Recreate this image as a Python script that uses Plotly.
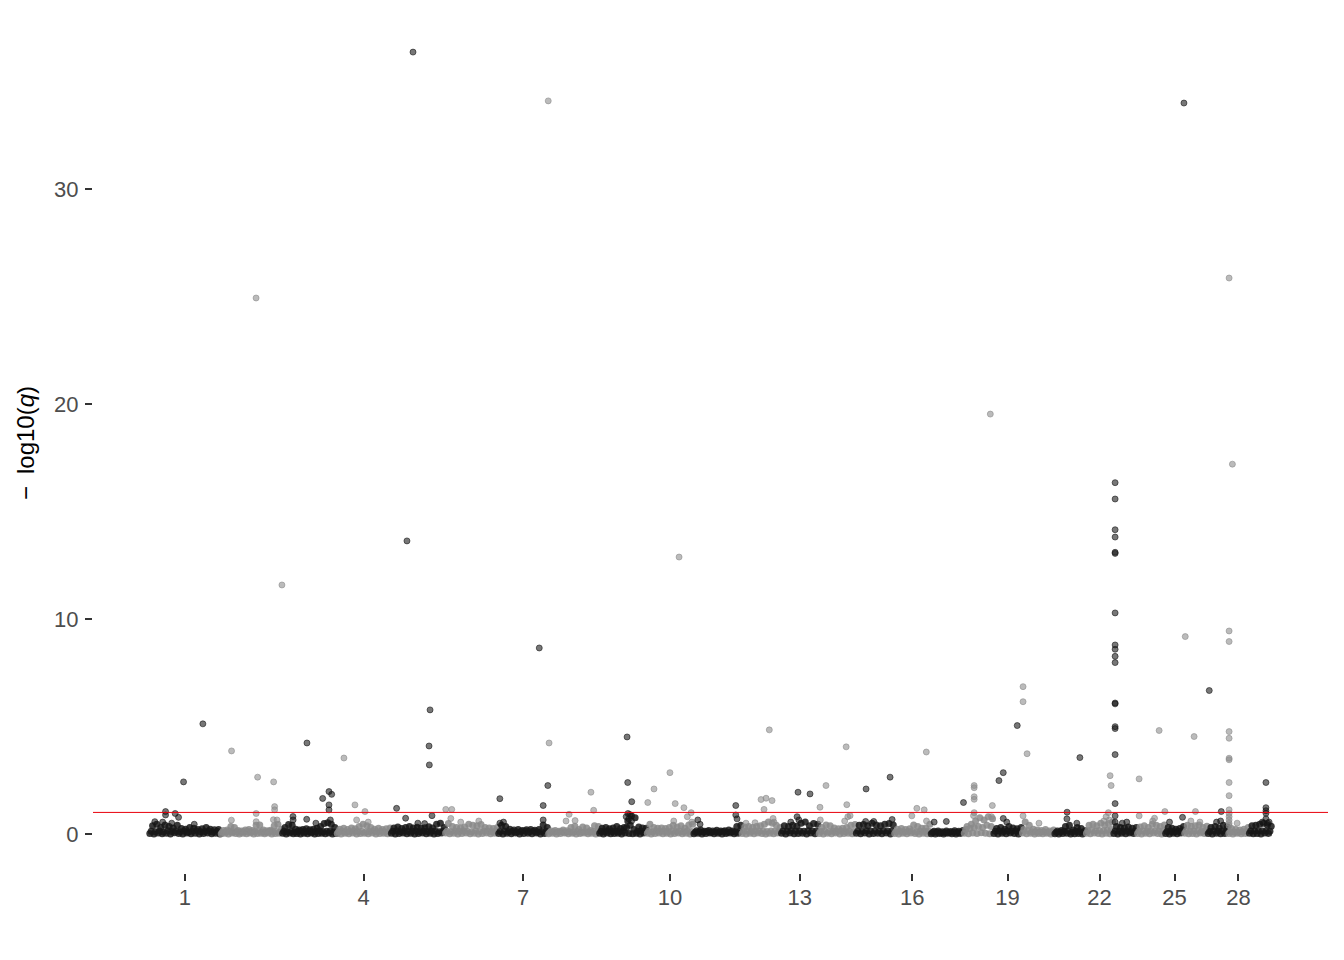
"""Manhattan plot de q-valores por cromosoma (Plotly)."""

import numpy as np
import plotly.graph_objects as go

# --- datos -----------------------------------------------------------------
chrom_ids = list(range(1, 30))
chrom_len_mb = [158.5, 136.2, 121.0, 120.0, 120.1, 117.8, 110.7, 113.3, 105.5, 103.3,
                106.9, 87.2, 83.5, 82.4, 85.0, 81.0, 73.2, 65.8, 63.4, 71.9,
                69.9, 60.8, 52.5, 62.3, 42.4, 51.9, 45.6, 45.9, 51.1]

# SNPs de fondo (nube densa): -log10(q) x 100, repartidos a lo largo de cada cromosoma
bg_vals = [
    "2 12 38 0 10 45 4 14 30 1 9 42 3 15 35 0 11 28 5 12 40 2 10 25 0 13 22 4 9 30 1 12 26 3 14 20 0 10 24 2 11 30 4 13 22 1 9 19 3 12 21 0",
    "1 8 16 3 10 18 0 12 35 4 9 30 2 11 16 0 8 14 3 10 18 1 12 20 4 9 16 0 11 40 2 13 42 3 10 18 1 8 15 4 12 17 0 10 38 2 11 45 3 9 22",
    "3 12 30 0 10 44 4 14 40 1 9 22 2 11 18 0 13 20 3 10 24 1 12 19 4 9 22 0 11 26 2 13 35 3 10 48 1 12 52 4 14 45 0 9 30 2",
    "2 10 22 0 12 26 3 9 20 1 11 28 4 13 24 0 10 35 2 12 45 3 9 38 1 11 30 4 13 22 0 10 26 2 12 20 3 9 24 1 11 28",
    "3 12 28 0 14 32 2 10 25 4 13 30 1 11 35 3 12 27 0 14 31 2 10 26 4 13 29 1 11 33 3 12 28 0 14 45 2 10 50 4 13 30",
    "4 12 48 1 10 35 3 13 30 0 11 28 2 14 32 4 12 45 1 10 40 3 13 38 0 11 44 2 14 30 4 12 27 1 10 25 3 13 30",
    "2 11 40 0 13 35 3 10 22 1 12 18 4 9 20 0 11 16 2 13 19 3 10 21 1 12 17 4 9 20 0 11 42 2 13 30",
    "1 8 14 3 10 16 0 9 12 2 11 18 4 8 15 1 10 30 3 9 36 0 11 20 2 8 32 4 10 28 1 9 16 3 11 38 0 10 34",
    "3 12 26 0 10 30 4 13 24 1 11 28 2 12 35 3 10 25 0 13 30 4 30 60 2 40 85 1 20 75 3 12 32 0 12 28 4 10 26",
    "3 12 45 0 10 30 2 13 26 4 11 28 1 12 25 3 10 30 0 13 40 2 11 32 4 12 38 1 10 26 3 13 42 0 11 45",
    "1 8 15 3 10 18 0 9 12 2 11 16 4 8 14 1 10 17 3 9 13 0 11 15 2 8 18 4 10 14 1 9 35 3 11 40",
    "2 12 32 0 14 35 3 11 30 1 13 34 4 12 38 2 14 45 0 11 55 3 13 50 1 12 40 4 14 30",
    "3 14 38 0 12 35 4 15 40 1 13 36 2 14 50 3 12 55 0 15 38 4 13 48 1 14 45",
    "2 11 30 0 13 42 3 10 38 1 12 28 4 11 24 0 13 26 2 10 30 3 12 40 1 11 44",
    "3 14 40 1 12 44 4 15 38 0 13 50 2 14 42 3 12 38 1 15 45 4 13 48 0 14 42",
    "2 10 22 0 12 25 3 9 20 1 11 24 4 13 42 2 10 35 0 12 26 3 11 28 1 13 45",
    "1 6 12 0 8 14 2 5 10 0 7 13 3 6 11 1 8 15 0 6 12 2 7 16",
    "3 20 35 1 25 45 4 30 60 2 35 75 5 30 65 3 40 80 1 35 70",
    "2 12 25 0 14 30 3 11 22 1 13 35 4 12 28 2 14 24 0 11 30",
    "4 20 55 1 15 40 3 10 22 0 9 18 2 8 16 1 10 20 3 8 14 0 9 18",
    "1 8 14 0 9 16 2 12 35 3 14 40 0 9 18 1 12 30 2 10 25 0 8 15",
    "3 15 40 1 18 45 4 14 38 2 16 50 0 15 42 3 17 48 1 20 55",
    "2 13 35 0 12 30 3 11 28 1 13 32 4 10 26 2 12 30",
    "2 12 32 0 14 38 3 11 30 1 15 45 4 12 40 2 13 35 0 14 42",
    "2 11 30 0 12 26 3 10 22 1 12 25 4 14 35",
    "3 14 40 1 12 35 2 13 38 0 15 42 4 11 30 2 13 36",
    "2 11 30 0 13 35 3 12 28 1 14 40 2 12 32",
    "2 10 25 0 9 20 3 8 18 1 10 22 2 12 30",
    "3 14 38 1 13 40 2 15 45 0 14 50 4 13 42 2 12 36",
]

# SNPs destacados (cromosoma, posicion en Mb, -log10(q))
hit_chr = ([1] * 10 + [2] * 12 + [3] * 11 + [4] * 5 + [5] * 10 + [6] * 5 + [7] * 7
           + [8] * 7 + [9] * 8 + [10] * 10 + [11] * 5 + [12] * 9 + [13] * 5 + [14] * 8
           + [15] * 5 + [16] * 5 + [17] * 3 + [18] * 9 + [19] * 5 + [20] * 5 + [21] * 4
           + [22] * 6 + [23] * 21 + [24] * 6 + [25] * 3 + [26] * 5 + [27] * 4 + [28] * 17
           + [29] * 8)
hit_pos = [
    119.1, 76.3, 36.4, 36.4, 57.7, 65.2, 12.6, 30.0, 50.0, 100.0,
    78.6, 135.9, 24.2, 82.0, 117.5, 119.7, 119.7, 78.8, 78.8, 23.9, 117.0, 125.0,
    55.2, 90.0, 104.0, 110.0, 104.0, 104.0, 24.2, 24.5, 54.6, 107.0, 75.0,
    16.2, 40.6, 62.8, 44.3, 70.0,
    49.3, 35.9, 87.1, 84.9, 85.5, 12.9, 32.9, 91.4, 60.0, 75.0,
    1.8, 15.1, 13.0, 35.0, 75.0,
    3.9, 110.3, 100.0, 91.3, 100.0, 4.0, 12.0,
    0.5, 2.4, 95.2, 101.2, 46.8, 40.0, 60.0,
    62.0, 63.4, 72.3, 64.0, 68.0, 66.0, 60.0, 72.0,
    71.8, 2.4, 16.2, 51.5, 63.2, 82.5, 98.6, 90.0, 60.0, 100.0,
    94.2, 94.2, 97.0, 10.0, 15.0,
    43.3, 54.4, 67.7, 49.9, 61.6, 70.0, 72.0, 10.0, 30.0,
    38.1, 64.7, 36.0, 40.0, 22.0,
    16.6, 3.3, 62.7, 61.3, 4.0, 65.0, 70.0, 58.0,
    23.1, 76.3, 80.8, 22.0, 40.0,
    71.6, 50.6, 66.9, 39.5, 72.0,
    73.0, 8.0, 35.0,
    59.3, 23.5, 23.5, 23.5, 23.5, 23.5, 63.8, 62.0, 22.0,
    53.2, 12.6, 22.2, 22.2, 30.0,
    2.7, 2.7, 11.6, 2.7, 38.0,
    56.8, 28.4, 28.0, 50.0,
    53.9, 56.1, 50.0, 45.0, 40.0, 52.0,
    4.2, 4.2, 4.2, 4.2, 4.2, 4.2, 4.2, 4.2, 4.2, 4.2,
    4.2, 4.2, 4.2, 4.2, 4.2, 4.2, 4.2, 4.2, 4.2, 20.0, 30.0,
    4.9, 49.3, 62.0, 39.0, 5.0, 35.0,
    42.0, 38.8, 10.0,
    2.5, 22.1, 25.1, 15.0, 35.0,
    3.8, 30.4, 29.0, 20.0,
    2.2, 9.5, 2.2, 2.2, 2.2, 2.2, 2.2, 2.2, 2.2, 2.2,
    2.2, 2.2, 2.2, 2.2, 2.2, 2.2, 20.0,
    38.0, 38.0, 38.0, 38.0, 38.0, 30.0, 42.0, 45.0,
]
hit_val = [
    5.12, 2.42, 1.04, 0.88, 0.95, 0.77, 0.57, 0.55, 0.50, 0.45,
    24.93, 11.58, 3.86, 2.64, 2.42, 1.27, 1.12, 0.95, 0.57, 0.64, 0.66, 0.65,
    4.23, 1.65, 1.97, 1.84, 1.35, 1.12, 0.81, 0.65, 0.68, 0.65, 0.50,
    3.53, 1.35, 1.04, 0.65, 0.55,
    36.37, 13.63, 5.77, 4.09, 3.21, 1.19, 0.73, 0.85, 0.50, 0.48,
    1.14, 1.14, 0.72, 0.55, 0.60,
    1.64, 2.25, 1.32, 8.65, 0.65, 0.50, 0.55,
    34.10, 4.23, 1.94, 1.10, 0.91, 0.60, 0.62,
    4.51, 2.39, 1.50, 0.95, 0.90, 0.70, 0.80, 0.60,
    12.88, 1.46, 2.09, 2.85, 1.41, 1.22, 0.99, 0.80, 0.60, 0.55,
    1.32, 0.88, 0.70, 0.65, 0.45,
    1.60, 1.66, 1.55, 1.14, 4.84, 0.72, 0.55, 0.50, 0.52,
    1.94, 1.86, 0.80, 0.65, 0.55,
    2.25, 1.24, 1.36, 4.05, 0.65, 0.80, 0.85, 0.60,
    2.09, 2.64, 0.67, 0.58, 0.58,
    3.81, 1.19, 1.12, 0.84, 0.60,
    1.46, 0.55, 0.58,
    19.53, 2.25, 2.15, 1.73, 1.61, 0.99, 1.32, 0.80, 0.85,
    5.04, 2.48, 2.85, 0.72, 0.55,
    6.85, 6.15, 3.73, 0.84, 0.50,
    3.55, 1.01, 0.70, 0.50,
    2.71, 2.25, 0.99, 0.80, 0.60, 0.65,
    16.34, 15.58, 14.15, 13.81, 13.10, 13.05, 10.28, 8.79, 8.59, 8.26,
    7.97, 6.09, 6.05, 4.99, 4.90, 3.69, 1.41, 0.84, 0.55, 0.50, 0.55,
    2.56, 4.81, 1.04, 0.73, 0.84, 0.60,
    34.00, 0.77, 0.55,
    9.18, 4.53, 1.04, 0.60, 0.55,
    6.67, 1.04, 0.60, 0.55,
    25.86, 17.20, 9.44, 8.95, 4.76, 4.45, 3.52, 3.45, 2.39, 1.78,
    1.12, 0.95, 0.80, 0.65, 0.50, 0.38, 0.50,
    2.39, 1.22, 1.08, 0.96, 0.70, 0.55, 0.50, 0.55,
]
assert len(hit_chr) == len(hit_pos) == len(hit_val)

label_chroms = [1, 4, 7, 10, 13, 16, 19, 22, 25, 28]
q_threshold = 1.0  # -log10(0.1)

# --- construccion ----------------------------------------------------------
lens = np.array(chrom_len_mb)
starts = np.concatenate([[0.0], np.cumsum(lens)[:-1]])
total = lens.sum()

hit_chr_a = np.array(hit_chr)
hit_pos_a = np.array(hit_pos)
hit_val_a = np.array(hit_val)

# cada punto de fondo representa muchos SNPs superpuestos -> casi opaco
bg_dark, bg_grey = "rgba(24,24,24,0.85)", "rgba(138,138,138,0.85)"
dark, grey = "rgba(20,20,20,0.58)", "rgba(138,138,138,0.58)"

fig = go.Figure()
ymax = max(hit_val)
for i, c in enumerate(chrom_ids):
    bg = np.array([float(v) for v in bg_vals[i].split()]) / 100.0
    step = lens[i] / len(bg)
    bg_x = starts[i] + step * (np.arange(len(bg)) + 0.5)
    col = bg_dark if c % 2 == 1 else bg_grey
    fig.add_trace(go.Scatter(
        x=bg_x, y=bg, mode="markers",
        marker=dict(size=7, color=col, line=dict(width=0)),
        showlegend=False, hoverinfo="skip",
    ))

for i, c in enumerate(chrom_ids):
    sel = hit_chr_a == c
    col = dark if c % 2 == 1 else grey
    fig.add_trace(go.Scatter(
        x=starts[i] + hit_pos_a[sel], y=hit_val_a[sel], mode="markers",
        marker=dict(size=6, color=col, line=dict(color=col, width=1)),
        showlegend=False, hoverinfo="skip",
    ))

fig.add_hline(y=q_threshold, line=dict(color="#e8000b", width=1))

tick_x = [starts[c - 1] + lens[c - 1] / 2 for c in label_chroms]
tick_font = dict(family="Liberation Sans, Arial, sans-serif", size=22, color="#4d4d4d")

# la pagina tiene 8 px de margen en el body: la figura ocupa 1328x944
fig.update_layout(
    width=1328, height=944,
    paper_bgcolor="white", plot_bgcolor="white",
    margin=dict(l=85, r=8, t=5, b=79),
    xaxis=dict(
        range=[-0.05 * total, 1.05 * total],
        tickvals=tick_x, ticktext=[str(c) for c in label_chroms],
        ticks="outside", ticklen=7, tickwidth=1.5, tickcolor="#333333",
        showgrid=False, zeroline=False, showline=False,
        tickfont=tick_font, ticklabelstandoff=-2,
    ),
    yaxis=dict(
        range=[-0.05 * ymax, 1.05 * ymax],
        tickvals=[0, 10, 20, 30],
        ticks="outside", ticklen=7, tickwidth=1.5, tickcolor="#333333",
        showgrid=False, zeroline=False, showline=False,
        tickfont=tick_font, ticklabelstandoff=2,
        title=dict(text="\u2212\u2002log10(<i>q</i>)", standoff=12,
                   font=dict(family="Liberation Sans, Arial, sans-serif", size=24, color="black")),
    ),
)

fig.write_html("out.html")
